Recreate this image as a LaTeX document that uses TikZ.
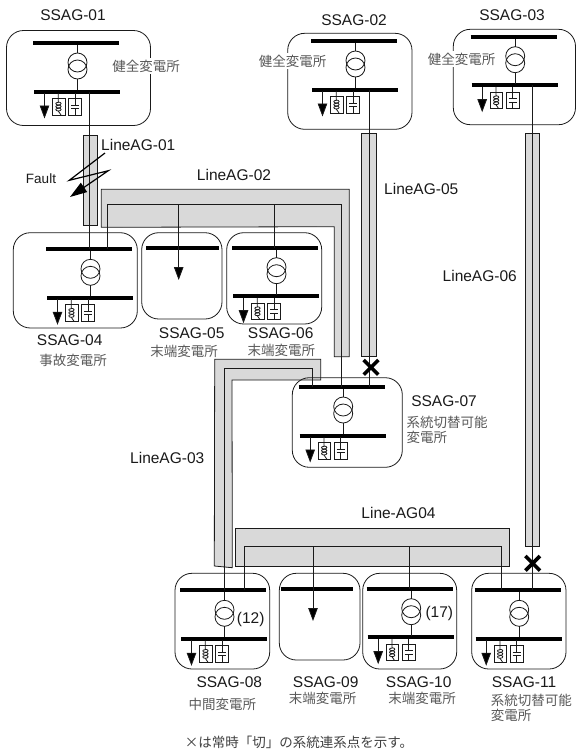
\documentclass[tikz,border=0pt]{standalone}
\usepackage{fontspec}
\setmainfont{Liberation Sans}
\newfontfamily\jpf{Noto Sans CJK JP}
\usetikzlibrary{arrows.meta,shapes.misc}
\definecolor{bandgray}{HTML}{D9D9D9}
\definecolor{ink}{HTML}{1A1A1A}
\tikzset{
  x=1pt,y=-1pt,
  thin line/.style={draw=ink,line width=0.8pt},
  busbar/.style={draw=black,line width=4pt},
  band/.style={draw=ink,fill=bandgray,line width=0.8pt},
  stbox/.style={draw=ink,line width=0.8pt,rounded corners=17pt},
  conn/.style={draw=ink,line width=0.8pt},
  load/.style={draw=ink,line width=0.8pt,-{Triangle[length=13pt,width=9.5pt,fill=black]}},
  lab/.style={font=\fontsize{15.5}{15.5}\selectfont,inner sep=0pt,text=ink},
  jp/.style={font=\jpf\fontsize{13.5}{13.5}\selectfont,inner sep=0pt,text=black!65},
  jpw/.style={jp,fill=white,inner ysep=2pt,inner xsep=1pt},
  xmark/.style={cross out,draw=black,line width=3.6pt,minimum size=11pt,inner sep=0pt},
  station/.pic={
    \coordinate (-tb) at (0,0);
    \coordinate (-bb) at (1,48.5);
    \draw[busbar] (0,0) -- (86,0);
    \draw[busbar] (1,48.5) -- (87,48.5);
    \draw[thin line] (44.5,2) -- (44.5,10);
    \draw[thin line] (44.5,36) -- (44.5,47);
    \draw[thin line] (44.5,19.5) circle[radius=9.5pt];
    \draw[thin line] (44.5,26.5) circle[radius=9.5pt];
    \draw[load] (11.5,50) -- (11.5,75.5);
    \draw[thin line] (19.3,55.3) rectangle (32,72);
    \draw[thin line] (25.3,50) -- (25.3,59) .. controls (29,59) and (29,62) .. (25.3,62)
       .. controls (22,62) and (22,59) .. (25.3,59.5);
    \draw[thin line] (25.3,62) .. controls (29,62) and (29,65) .. (25.3,65)
       .. controls (22,65) and (22,62) .. (25.3,62.5);
    \draw[thin line] (25.3,65) .. controls (29,65) and (29,68) .. (25.3,68)
       .. controls (22,68) and (22,65) .. (25.3,65.5);
    \draw[thin line] (25.3,68) -- (28,72);
    \draw[thin line] (35.3,55.3) rectangle (48.7,72);
    \draw[thin line] (42,50) -- (42,62);
    \draw[thin line] (38,62) -- (46,62);
    \draw[thin line] (38,65.3) -- (46,65.3);
    \draw[thin line] (42,65.3) -- (42,72);
  }
}
\begin{document}
\begin{tikzpicture}
\fill[white] (0,0) rectangle (576,753);
\useasboundingbox (0,0) rectangle (576,753);
% gray bands
\draw[band] (83.3,135) rectangle (97.7,225.3);
\draw[band] (101.3,227.3) -- (101.3,189.3) -- (349.3,189.3) -- (349.3,356.7) -- (334.3,356.7) -- (334.3,226.7) -- cycle;
\draw[band] (361.8,133.3) rectangle (376,356.7);
\draw[band] (525,133.3) rectangle (539.3,546.7);
\draw[band] (214.7,359.3) -- (320.7,359.3) -- (320.7,380) -- (232,380) -- (232.3,567.7) -- (214.3,566) -- cycle;
\draw[band] (235.3,528.3) rectangle (509.3,566);
% stations
\pic (s1) at (33,43) {station};
\pic (s2) at (311,41) {station};
\pic (s3) at (470.7,36.7) {station};
\pic (s4) at (46,249.3) {station};
\pic (s6) at (232,247.7) {station};
\pic (s7) at (298.7,387) {station};
\pic (s8) at (180,590.3) {station};
\pic (s10) at (366.7,588.7) {station};
\pic (s11) at (474.7,590.3) {station};
\coordinate (s5-tb) at (146,247.7);
\coordinate (s9-tb) at (280.7,588.7);
\draw[busbar] (s5-tb) -- (218.7,247.7);
\draw[busbar] (s9-tb) -- (353,588.7);
% connectors
\coordinate (a) at (89.7,0);
\coordinate (b) at (369,0);
\coordinate (c) at (532.3,0);
\draw[conn] (a |- s1-bb) -- (a |- s4-tb);
\draw[conn] (b |- s2-bb) -- (b |- s7-tb);
\draw[conn] (c |- s3-bb) -- (c |- s11-tb);
\coordinate (l2a) at (107.7,204.7);
\coordinate (l2b) at (341.7,204.7);
\draw[conn] (l2a |- s4-tb) -- (l2a) -- (l2b) -- (l2b |- s7-tb);
\coordinate (t5) at (178.7,204.7);
\coordinate (t6) at (274.7,204.7);
\draw[load] (t5) -- (178.7,280);
\draw[conn] (t6) -- (t6 |- s6-tb);
\coordinate (l3a) at (224.5,368.5);
\coordinate (l3b) at (312.7,368.5);
\draw[conn] (l3a |- s8-tb) -- (l3a) -- (l3b) -- (l3b |- s7-tb);
\coordinate (l4a) at (244.7,546.2);
\coordinate (l4b) at (501.7,546.2);
\draw[conn] (l4a |- s8-tb) -- (l4a) -- (l4b) -- (l4b |- s11-tb);
\coordinate (t9) at (313,546.2);
\coordinate (t10) at (409,546.2);
\draw[load] (t9) -- (313,621);
\draw[conn] (t10) -- (t10 |- s10-tb);
% boxes
\draw[stbox] (6.5,30.5) rectangle (150.5,125.5);
\draw[stbox] (287.7,33.3) rectangle (412,129.3);
\draw[stbox] (453.3,29.3) rectangle (575.5,124.7);
\draw[stbox] (13.3,232.7) rectangle (137.3,328);
\draw[stbox] (141.7,232.7) rectangle (222,319);
\draw[stbox] (226.7,232.7) rectangle (321.7,324);
\draw[stbox] (292.3,377.7) rectangle (402.3,467.3);
\draw[stbox] (175,573.3) rectangle (269.7,669);
\draw[stbox] (279.3,573.3) rectangle (360,660);
\draw[stbox] (362.7,573.3) rectangle (456.7,669);
\draw[stbox] (471.7,573.3) rectangle (566,669);
% open points
\node[xmark] (x1) at (371,367.3) {};
\node[xmark] (x2) at (532.7,563.3) {};
% fault
\coordinate (f1) at (105,153);
\coordinate (f2) at (69.3,180.3);
\coordinate (f3) at (108.3,170.7);
\coordinate (f4) at (70,197);
\draw[draw=black,line width=1.2pt,line join=miter,-{Triangle[length=17pt,width=11pt,fill=black]}] (f1) -- (f2) -- (f3) -- (f4);
% labels
\node[lab] (n1) at (73,15) {SSAG-01};
\node[lab] (n2) at (354,20) {SSAG-02};
\node[lab] (n3) at (512,15) {SSAG-03};
\node[lab] (n4) at (69.7,340) {SSAG-04};
\node[lab] (n5) at (191.7,333) {SSAG-05};
\node[lab] (n6) at (280.7,333) {SSAG-06};
\node[lab] (n7) at (444,401) {SSAG-07};
\node[lab] (n8) at (229.3,681.7) {SSAG-08};
\node[lab] (n9) at (325.7,681.7) {SSAG-09};
\node[lab] (n10) at (418.7,681.7) {SSAG-10};
\node[lab] (n11) at (524,682.3) {SSAG-11};
\node[lab,anchor=west] (la1) at (101,145) {LineAG-01};
\node[lab] (la2) at (234,175) {LineAG-02};
\node[lab,anchor=west] (la3) at (130,458) {LineAG-03};
\node[lab] (la4) at (398.5,513) {Line-AG04};
\node[lab,anchor=west] (la5) at (384,189) {LineAG-05};
\node[lab,anchor=west] (la6) at (442.5,276) {LineAG-06};
\node[lab,font=\fontsize{13.5}{13.5}\selectfont] (ft) at (41,179) {Fault};
\node[lab] (v12) at (250.7,619) {(12)};
\node[lab] (v17) at (439.3,613) {(17)};
\node[jpw] (j1) at (146,66) {健全変電所};
\node[jpw] (j2) at (292.5,61) {健全変電所};
\node[jpw] (j3) at (461.5,59) {健全変電所};
\node[jp] (j4) at (73,360) {事故変電所};
\node[jp] (j5) at (184,351.7) {末端変電所};
\node[jp] (j6) at (281.3,350) {末端変電所};
\node[jp,anchor=west] (j7a) at (406.5,422.5) {系統切替可能};
\node[jp,anchor=west] (j7b) at (406.5,437.5) {変電所};
\node[jp] (j8) at (222.3,704) {中間変電所};
\node[jp] (j9) at (322.7,698) {末端変電所};
\node[jp] (j10) at (422,698) {末端変電所};
\node[jp,anchor=west] (j11a) at (490.7,700) {系統切替可能};
\node[jp,anchor=west] (j11b) at (490.7,715) {変電所};
\node[jp,text=black!75] (fn) at (299,742.5) {×は常時「切」の系統連系点を示す。};
\end{tikzpicture}
\end{document}
